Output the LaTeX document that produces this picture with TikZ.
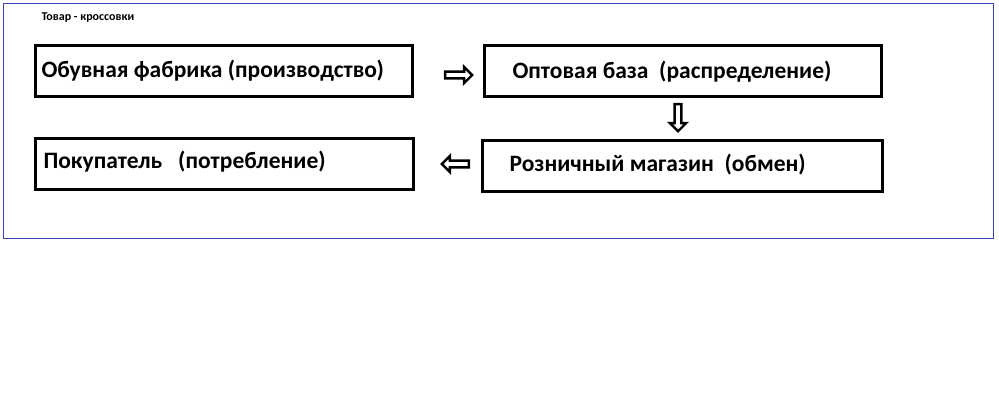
\documentclass[tikz,border=0pt]{standalone}
\usepackage{fontspec}
\setmainfont{Carlito}
\usetikzlibrary{shapes.arrows}
\begin{document}
\begin{tikzpicture}[x=1pt,y=-1pt,
  stage/.style={draw=black,line width=3pt,minimum height=51pt,inner sep=0pt},
  lbl/.style={anchor=west,font=\bfseries\fontsize{23.5}{26}\selectfont},
  harrow/.style={single arrow,draw=black,line width=2.4pt,fill=white,minimum height=27pt,minimum width=16pt,single arrow head extend=3pt,inner sep=1pt}]
\useasboundingbox (0,0) rectangle (999,407);
\node[draw=blue!50!gray,line width=0.8pt,minimum width=990pt,minimum height=235pt,anchor=north west,inner sep=0pt] (frame) at (3,3) {};
\node[anchor=west,font=\bfseries\fontsize{12}{14}\selectfont] (title) at (38,18) {Товар - кроссовки};
\node[stage,minimum width=377pt] (b1) at (223.5,71) {};
\node[stage,minimum width=397pt] (b2) at (682.5,71) {};
\node[stage,minimum width=400pt] (b3) at (682,166) {};
\node[stage,minimum width=378pt] (b4) at (224,163.5) {};
\node[lbl] (t1) at (38,71) {Обувная фабрика (производство)};
\node[lbl] (t2) at (509,72) {Оптовая база\ \ (распределение)};
\node[lbl] (t3) at (506,165) {Розничный магазин\ \ (обмен)};
\node[lbl] (t4) at (40,162) {Покупатель\ \ \ (потребление)};
\node[harrow] (a1) at (457,75) {};
\node[harrow,shape border rotate=270] (a2) at (678,116) {};
\node[harrow,shape border rotate=180] (a3) at (457,164) {};
\end{tikzpicture}
\end{document}
